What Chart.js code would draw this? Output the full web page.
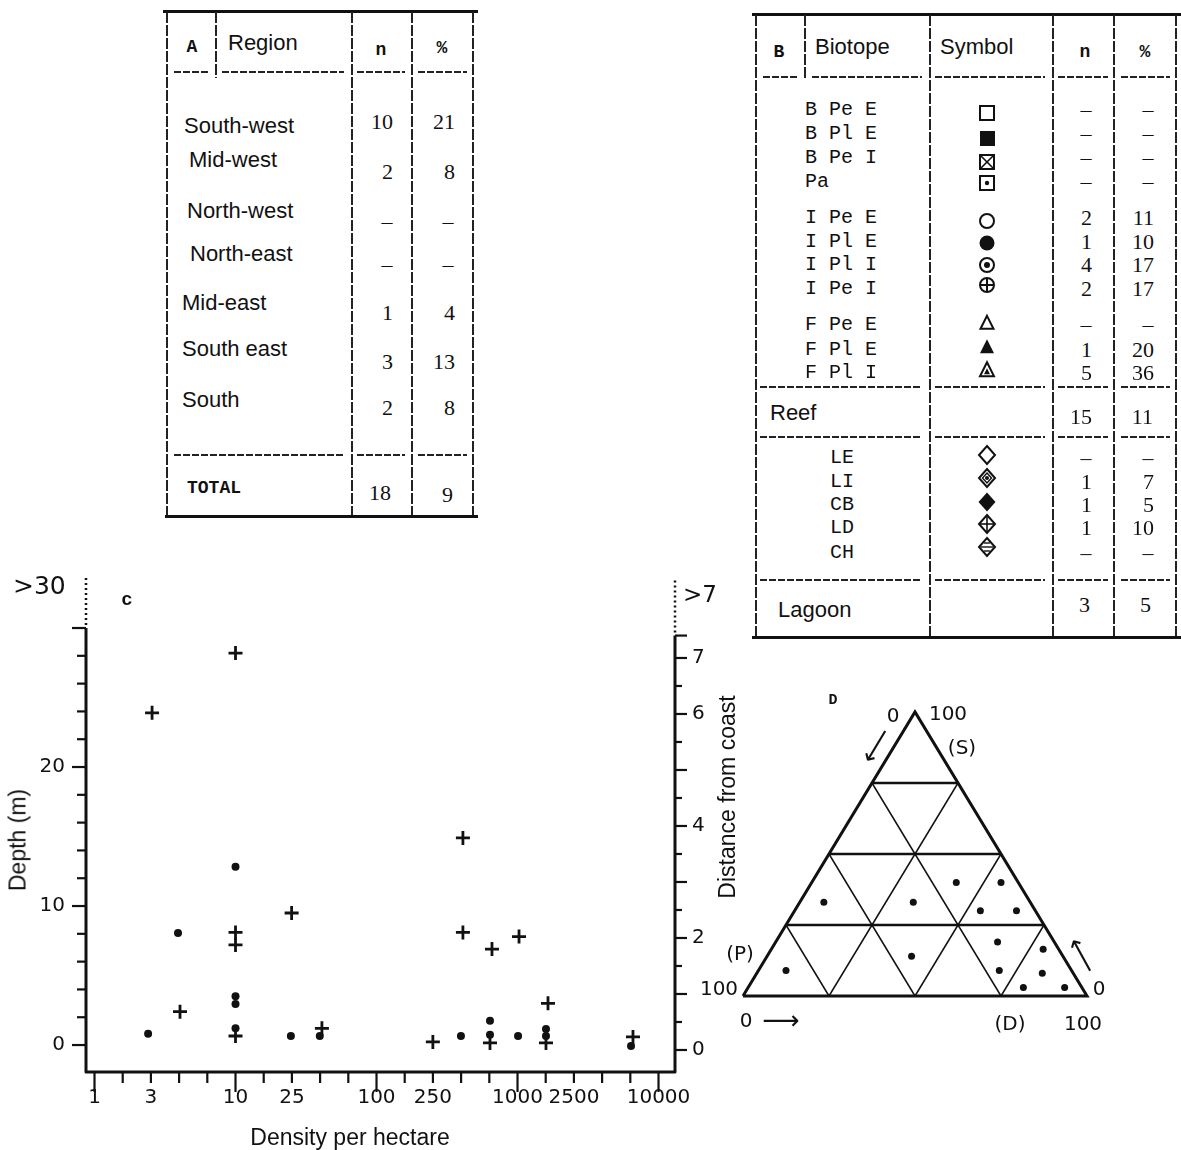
<!DOCTYPE html>
<html>
<head>
<meta charset="utf-8">
<script src="https://cdn.jsdelivr.net/npm/chart.js@4.4.1/dist/chart.umd.min.js"></script>
<style>
body { margin: 0; background: #fff; width: 1181px; height: 1150px; position: relative; overflow: hidden; color: #111; }
.t { position: absolute; white-space: nowrap; line-height: 1; transform: translateY(-50%); }
.c { transform: translate(-50%, -50%); }
.r { transform: translate(-100%, -50%); }
.sans { font-family: 'Liberation Sans', Arial, sans-serif; font-size: 22px; }
.serif { font-family: 'Liberation Serif', serif; font-size: 22px; }
.mono { font-family: 'Liberation Mono', monospace; font-size: 20px; }
.tw { font-family: 'Liberation Mono', monospace; font-weight: bold; font-size: 18px; }
.lbl { font-family: 'DejaVu Sans', sans-serif; font-size: 20px; }
.hl { position: absolute; height: 2px; background: repeating-linear-gradient(to right, #222 0 7px, transparent 7px 9px); }
.vl { position: absolute; width: 2px; background: repeating-linear-gradient(to bottom, #222 0 11px, transparent 11px 13px); }
.solid { position: absolute; height: 3px; background: #111; }
canvas { position: absolute; }
</style>
</head>
<body>
<canvas id="sym" width="40" height="480" style="left:967px;top:90px"></canvas>
<canvas id="chartC" width="745" height="590" style="left:0;top:560px"></canvas>
<canvas id="chartD" width="481" height="360" style="left:700px;top:680px"></canvas>
<script>
// ---- Table A data
const regions = ['South-west', 'Mid-west', 'North-west', 'North-east', 'Mid-east', 'South east', 'South'];
const regionN = ['10', '2', '–', '–', '1', '3', '2'];
const regionPct = ['21', '8', '–', '–', '4', '13', '8'];
const regionTotal = ['18', '9'];

// ---- Table B data
const biotopes = ['B Pe E', 'B Pl E', 'B Pe I', 'Pa', 'I Pe E', 'I Pl E', 'I Pl I', 'I Pe I', 'F Pe E', 'F Pl E', 'F Pl I'];
const biotopeN = ['–', '–', '–', '–', '2', '1', '4', '2', '–', '1', '5'];
const biotopePct = ['–', '–', '–', '–', '11', '10', '17', '17', '–', '20', '36'];
const reefTotal = ['15', '11'];
const lagoonTypes = ['LE', 'LI', 'CB', 'LD', 'CH'];
const lagoonN = ['–', '1', '1', '1', '–'];
const lagoonPct = ['–', '7', '5', '10', '–'];
const lagoonTotal = ['3', '5'];

// ---- Chart C data (density per hectare vs depth / distance from coast)
const densityTicks = [1, 2.5, 10, 25, 100, 250, 1000, 2500, 10000];
const densityTickLabels = ['1', '3', '10', '25', '100', '250', '1000', '2500', '10000'];
const depthTickLabels = [0, 10, 20];
const distTickLabels = [0, 2, 4, 6, 7];

const crossDensity = [10, 2.56, 25, 10, 10, 4.04, 10, 41, 410, 410, 659, 1025, 1645, 251, 638, 1592, 6590];
const crossDepth = [28.2, 23.9, 9.5, 8.1, 7.2, 2.4, 0.65, 1.2, 14.9, 8.1, 6.9, 7.8, 3.0, 0.22, 0.15, 0.15, 0.58];
const dotDensity = [10, 3.91, 10, 10, 2.4, 10, 24.7, 39.6, 397, 638, 638, 1009, 1592, 1592, 6383];
const dotDistance = [3.27, 2.09, 0.96, 0.82, 0.29, 0.39, 0.25, 0.25, 0.25, 0.52, 0.27, 0.25, 0.375, 0.25, 0.07];

// ---- Chart D data (ternary, percent of S and D; P is the rest)
const compS = [33, 33, 40, 40, 30, 30, 19, 16.5, 9, 14, 9, 8, 3, 3];
const compD = [7, 33, 42, 55, 54, 64.5, 64.5, 79, 8, 42, 70, 83, 80, 92];
const ternGrid = [25, 50, 75];

// helpers for the page text and rules
function put(text, x, y, cls, align) {
  const el = document.createElement('div');
  el.className = 't ' + cls + (align ? ' ' + align : '');
  el.style.left = x + 'px';
  el.style.top = y + 'px';
  el.textContent = text;
  document.body.appendChild(el);
  return el;
}
function rule(cls, x, y, w, h) {
  const el = document.createElement('div');
  el.className = cls;
  el.style.left = x + 'px';
  el.style.top = y + 'px';
  if (w) el.style.width = w + 'px';
  if (h) el.style.height = h + 'px';
  document.body.appendChild(el);
}
function dashRow(y, segs) {
  segs.forEach(s => rule('hl', s[0], y - 1, s[1] - s[0]));
}
// number cell: dashes centred, digits right aligned
function num(v, xRight, xDash, y) {
  if (v === '–') put(v, xDash, y, 'serif', 'c');
  else put(v, xRight, y, 'serif', 'r');
}

// ---- Table A
rule('solid', 163, 10, 315);
rule('solid', 165, 515, 313);
[167, 352, 412, 473].forEach(x => rule('vl', x - 1, 12, 0, 503));
rule('vl', 215, 12, 0, 66);
dashRow(72, [[174, 210], [222, 344], [357, 405], [418, 467]]);
dashRow(455, [[174, 344], [357, 405], [418, 467]]);
put('A', 192, 47, 'tw', 'c');
put('Region', 228, 43, 'sans');
put('n', 381, 50, 'tw', 'c');
put('%', 442, 48, 'tw', 'c');
const nameX = [184, 189, 187, 190, 182, 182, 182];
const nameY = [126, 160, 211, 254, 303, 349, 400];
const rowY = [122, 172, 222, 265, 313, 362, 408];
regions.forEach((r, i) => {
  put(r, nameX[i], nameY[i], 'sans');
  num(regionN[i], 393, 387, rowY[i]);
  num(regionPct[i], 455, 448, rowY[i]);
});
put('TOTAL', 187, 488, 'tw');
num(regionTotal[0], 391, 387, 493);
num(regionTotal[1], 453, 448, 495);

// ---- Table B
rule('solid', 752, 13, 429);
rule('solid', 752, 636, 429);
[756, 930, 1053, 1114, 1176].forEach(x => rule('vl', x - 1, 15, 0, 621));
rule('vl', 804, 15, 0, 65);
dashRow(77, [[763, 798], [812, 922], [935, 1045], [1058, 1108], [1121, 1170]]);
[387, 437, 580].forEach(y => dashRow(y, [[760, 922], [935, 1045], [1058, 1108], [1121, 1170]]));
put('B', 779, 52, 'tw', 'c');
put('Biotope', 815, 47, 'sans');
put('Symbol', 940, 47, 'sans');
put('n', 1085, 52, 'tw', 'c');
put('%', 1145, 52, 'tw', 'c');
const bioY = [110, 134, 158, 182, 218, 242, 265, 289, 325, 350, 373];
biotopes.forEach((b, i) => {
  put(b, 805, bioY[i], 'mono');
  num(biotopeN[i], 1092, 1086, bioY[i]);
  num(biotopePct[i], 1154, 1148, bioY[i]);
});
put('Reef', 770, 413, 'sans');
num(reefTotal[0], 1092, 1086, 417);
num(reefTotal[1], 1153, 1148, 417);
const lagY = [458, 482, 505, 528, 553];
lagoonTypes.forEach((b, i) => {
  put(b, 830, lagY[i], 'mono');
  num(lagoonN[i], 1092, 1086, lagY[i]);
  num(lagoonPct[i], 1154, 1148, lagY[i]);
});
put('Lagoon', 778, 610, 'sans');
num(lagoonTotal[0], 1090, 1086, 605);
num(lagoonTotal[1], 1151, 1148, 605);

// ---- symbol column of table B
(function drawSymbols() {
  const g = document.getElementById('sym').getContext('2d');
  const cx = 20, off = 90;
  g.strokeStyle = '#111'; g.fillStyle = '#111'; g.lineWidth = 2;
  const circ = (y, r, fill) => { g.beginPath(); g.arc(cx, y, r, 0, Math.PI * 2); fill ? g.fill() : g.stroke(); };
  const tri = (y, s, fill) => { g.beginPath(); g.moveTo(cx, y - s * 0.55); g.lineTo(cx + s / 2, y + s * 0.45); g.lineTo(cx - s / 2, y + s * 0.45); g.closePath(); fill ? g.fill() : g.stroke(); };
  const dia = (y, w, h, fill) => { g.beginPath(); g.moveTo(cx, y - h / 2); g.lineTo(cx + w / 2, y); g.lineTo(cx, y + h / 2); g.lineTo(cx - w / 2, y); g.closePath(); fill ? g.fill() : g.stroke(); };
  const seg = (x1, y1, x2, y2) => { g.beginPath(); g.moveTo(x1, y1); g.lineTo(x2, y2); g.stroke(); };
  let y;
  y = 113 - off; g.strokeRect(cx - 7, y - 7, 14, 14);
  y = 138 - off; g.fillRect(cx - 7, y - 7, 15, 15);
  y = 162 - off; g.strokeRect(cx - 7, y - 7, 14, 14); g.lineWidth = 1.6; seg(cx - 7, y - 7, cx + 7, y + 7); seg(cx + 7, y - 7, cx - 7, y + 7); g.lineWidth = 2;
  y = 183 - off; g.strokeRect(cx - 7, y - 7, 14, 14); circ(y, 2.2, true);
  y = 221 - off; circ(y, 7, false);
  y = 243 - off; circ(y, 7.5, true);
  y = 265 - off; circ(y, 7, false); circ(y, 3, true);
  y = 285 - off; circ(y, 7, false); seg(cx - 7, y, cx + 7, y); seg(cx, y - 7, cx, y + 7);
  y = 323 - off; tri(y, 13, false);
  y = 347 - off; tri(y, 14, true);
  y = 370 - off; tri(y, 14, false); g.lineWidth = 1.4; tri(y + 1.5, 6, true); g.lineWidth = 2;
  y = 455 - off; dia(y, 16, 18, false);
  y = 478 - off; dia(y, 16, 18, false); g.lineWidth = 1.4; dia(y, 9, 10, false); circ(y, 2, true); g.lineWidth = 2;
  y = 502 - off; dia(y, 17, 19, true);
  y = 524 - off; dia(y, 16, 18, false); g.lineWidth = 1.6; seg(cx - 8, y, cx + 8, y); seg(cx, y - 9, cx, y + 9); g.lineWidth = 2;
  y = 547 - off; dia(y, 16, 18, false); g.lineWidth = 1.4;
  [-4, 0, 4].forEach(d => { const hw = 8 * (1 - Math.abs(d) / 9) - 1.5; seg(cx - hw, y + d, cx + hw, y + d); });
})();

// ---- Chart C
Chart.defaults.font.family = "'DejaVu Sans', sans-serif";
Chart.defaults.color = '#111';

const depthTicks = [];
for (let v = 0; v <= 30; v += 2) depthTicks.push(v);
const distTicks = [];
for (let v = 0; v <= 7; v += 0.5) distTicks.push(v);
const distAxisTop = 7.4;
distTicks.push(distAxisTop);
const densityMinor = [];
for (let k = 0; k <= 20; k++) densityMinor.push(Math.pow(10, k / 5));

function densityLabel(v) {
  const i = densityTicks.findIndex(t => Math.abs(Math.log10(t) - Math.log10(v)) < 0.03);
  return i < 0 ? '' : densityTickLabels[i];
}

function seg(ctx, x1, y1, x2, y2) {
  ctx.beginPath(); ctx.moveTo(x1, y1); ctx.lineTo(x2, y2); ctx.stroke();
}

// fixed box sizes so the plot area sits where the original one does
function fixBox(size, key) {
  return s => {
    s[key] = size;
    s.paddingTop = 0; s.paddingBottom = 0; s.paddingLeft = 0; s.paddingRight = 0;
  };
}

const axisBox = {
  id: 'axisBox',
  afterDraw(chart) {
    const { ctx, chartArea: a } = chart;
    const { x, y, y2 } = chart.scales;
    const yTop = y.getPixelForValue(30);
    const y2Top = y2.getPixelForValue(distAxisTop);
    ctx.save();
    ctx.strokeStyle = '#111';
    ctx.lineJoin = 'round';
    ctx.lineWidth = 3;
    ctx.beginPath();
    ctx.moveTo(a.left, yTop);
    ctx.lineTo(a.left, a.bottom);
    ctx.lineTo(a.right, a.bottom);
    ctx.lineTo(a.right, y2Top);
    ctx.stroke();
    // scale break shown as a dotted continuation
    ctx.lineWidth = 2.5;
    ctx.setLineDash([2, 3]);
    seg(ctx, a.left, yTop - 3, a.left, a.top);
    seg(ctx, a.right, y2Top - 3, a.right, a.top + 3);
    ctx.setLineDash([]);
    ctx.lineWidth = 2.2;
    y.ticks.forEach(t => {
      const p = y.getPixelForValue(t.value);
      seg(ctx, a.left - (t.value % 10 === 0 ? 14 : 9), p, a.left, p);
    });
    y2.ticks.forEach(t => {
      const p = y2.getPixelForValue(t.value);
      seg(ctx, a.right, p, a.right + (Number.isInteger(t.value) || t.value === distAxisTop ? 12 : 7), p);
    });
    x.ticks.forEach(t => {
      const p = x.getPixelForValue(t.value);
      const lg = Math.log10(t.value);
      const major = Math.abs(lg - Math.round(lg)) < 1e-6;
      seg(ctx, p, a.bottom, p, a.bottom + (major ? 20 : 11));
    });
    ctx.restore();
  }
};

const tickFont = { family: "'DejaVu Sans', sans-serif", size: 20 };
const noGrid = { display: true, drawOnChartArea: false, drawTicks: false, color: 'rgba(0,0,0,0)' };

new Chart(document.getElementById('chartC'), {
  type: 'scatter',
  data: {
    datasets: [
      {
        label: 'Depth',
        yAxisID: 'y',
        data: crossDensity.map((d, i) => ({ x: d, y: crossDepth[i] })),
        pointStyle: 'cross',
        pointRadius: 7,
        pointBorderWidth: 2.8,
        borderColor: '#111',
        backgroundColor: '#111'
      },
      {
        label: 'Distance',
        yAxisID: 'y2',
        data: dotDensity.map((d, i) => ({ x: d, y: dotDistance[i] })),
        pointStyle: 'circle',
        pointRadius: 4,
        pointBorderWidth: 0,
        borderColor: '#111',
        backgroundColor: '#111'
      }
    ]
  },
  options: {
    responsive: false,
    devicePixelRatio: 1,
    animation: false,
    events: [],
    layout: { padding: { top: 17, left: 0, right: 0, bottom: 0 } },
    plugins: { legend: { display: false }, tooltip: { enabled: false } },
    scales: {
      x: {
        type: 'logarithmic',
        min: 0.8703,
        max: 13090,
        grid: noGrid,
        border: { display: false },
        afterBuildTicks: s => { s.ticks = densityMinor.map(v => ({ value: v })); },
        afterFit: fixBox(78, 'height'),
        ticks: { autoSkip: false, maxRotation: 0, padding: 14, font: tickFont, callback: v => densityLabel(v) }
      },
      y: {
        position: 'left',
        min: -1.94,
        max: 33.67,
        grid: noGrid,
        border: { display: false },
        afterBuildTicks: s => { s.ticks = depthTicks.map(v => ({ value: v })); },
        afterFit: fixBox(86, 'width'),
        ticks: { autoSkip: false, padding: 21, font: tickFont, callback: v => depthTickLabels.includes(v) ? String(v) : '' }
      },
      y2: {
        position: 'right',
        min: -0.393,
        max: 8.446,
        grid: noGrid,
        border: { display: false },
        afterBuildTicks: s => { s.ticks = distTicks.map(v => ({ value: v })); },
        afterFit: fixBox(70, 'width'),
        ticks: { autoSkip: false, padding: 17, font: tickFont, callback: v => distTickLabels.includes(v) ? String(v) : '' }
      }
    }
  },
  plugins: [axisBox]
});

put('>30', 13, 585, 'lbl').style.fontSize = '25px';
put('>7', 683, 594, 'lbl').style.fontSize = '23px';
put('c', 127, 600, 'tw', 'c').style.fontSize = '19px';
put('Density per hectare', 350, 1137, 'sans', 'c').style.fontSize = '23px';
const depthTitle = put('Depth (m)', 18, 840, 'sans', 'c');
depthTitle.style.fontSize = '23px';
depthTitle.style.transform = 'translate(-50%, -50%) rotate(-90deg)';
const distTitle = put('Distance from coast', 727, 797, 'sans', 'c');
distTitle.style.fontSize = '23px';
distTitle.style.transform = 'translate(-50%, -50%) rotate(-90deg)';

// ---- Chart D (ternary diagram)
const tern = (s, d) => ({ x: d + s / 2, y: s });
const ternLines = [];
ternLines.push({ pts: [tern(0, 0), tern(0, 100), tern(100, 0), tern(0, 0)], w: 3 });
ternGrid.forEach(v => {
  ternLines.push({ pts: [tern(v, 0), tern(v, 100 - v)], w: 2.6 });
  ternLines.push({ pts: [tern(0, v), tern(100 - v, v)], w: 1.5 });
  ternLines.push({ pts: [tern(0, 100 - v), tern(100 - v, 0)], w: 1.5 });
});

new Chart(document.getElementById('chartD'), {
  type: 'scatter',
  data: {
    datasets: ternLines.map(l => ({
      data: l.pts,
      showLine: true,
      borderColor: '#111',
      borderWidth: l.w,
      pointRadius: 0,
      clip: false,
      borderJoinStyle: 'miter'
    })).concat([{
      data: compS.map((s, i) => tern(s, compD[i])),
      pointRadius: 3.5,
      pointBorderWidth: 0,
      backgroundColor: '#111',
      clip: false
    }])
  },
  options: {
    responsive: false,
    devicePixelRatio: 1,
    animation: false,
    events: [],
    layout: { padding: { left: 43, right: 94, top: 32, bottom: 44 } },
    plugins: { legend: { display: false }, tooltip: { enabled: false } },
    scales: {
      x: { type: 'linear', min: 0, max: 100, display: false },
      y: { type: 'linear', min: 0, max: 100, display: false }
    }
  }
});

put('D', 833, 700, 'tw', 'c').style.fontSize = '15px';
put('0', 893, 715, 'lbl', 'c');
put('100', 948, 713, 'lbl', 'c');
put('(S)', 962, 747, 'lbl', 'c');
put('(P)', 740, 953, 'lbl', 'c');
put('100', 719, 988, 'lbl', 'c');
put('0', 746, 1020, 'lbl', 'c');
put('(D)', 1010, 1023, 'lbl', 'c');
put('100', 1083, 1023, 'lbl', 'c');
put('0', 1099, 988, 'lbl', 'c');
function arrow(x, y, deg) {
  const el = put('⟶', x, y, 'lbl', 'c');
  el.style.fontSize = '26px';
  el.style.transform = 'translate(-50%, -50%) rotate(' + deg + 'deg)';
}
arrow(877, 746, 121);
arrow(781, 1020, 0);
arrow(1081, 956, 241);
</script>
</body>
</html>
